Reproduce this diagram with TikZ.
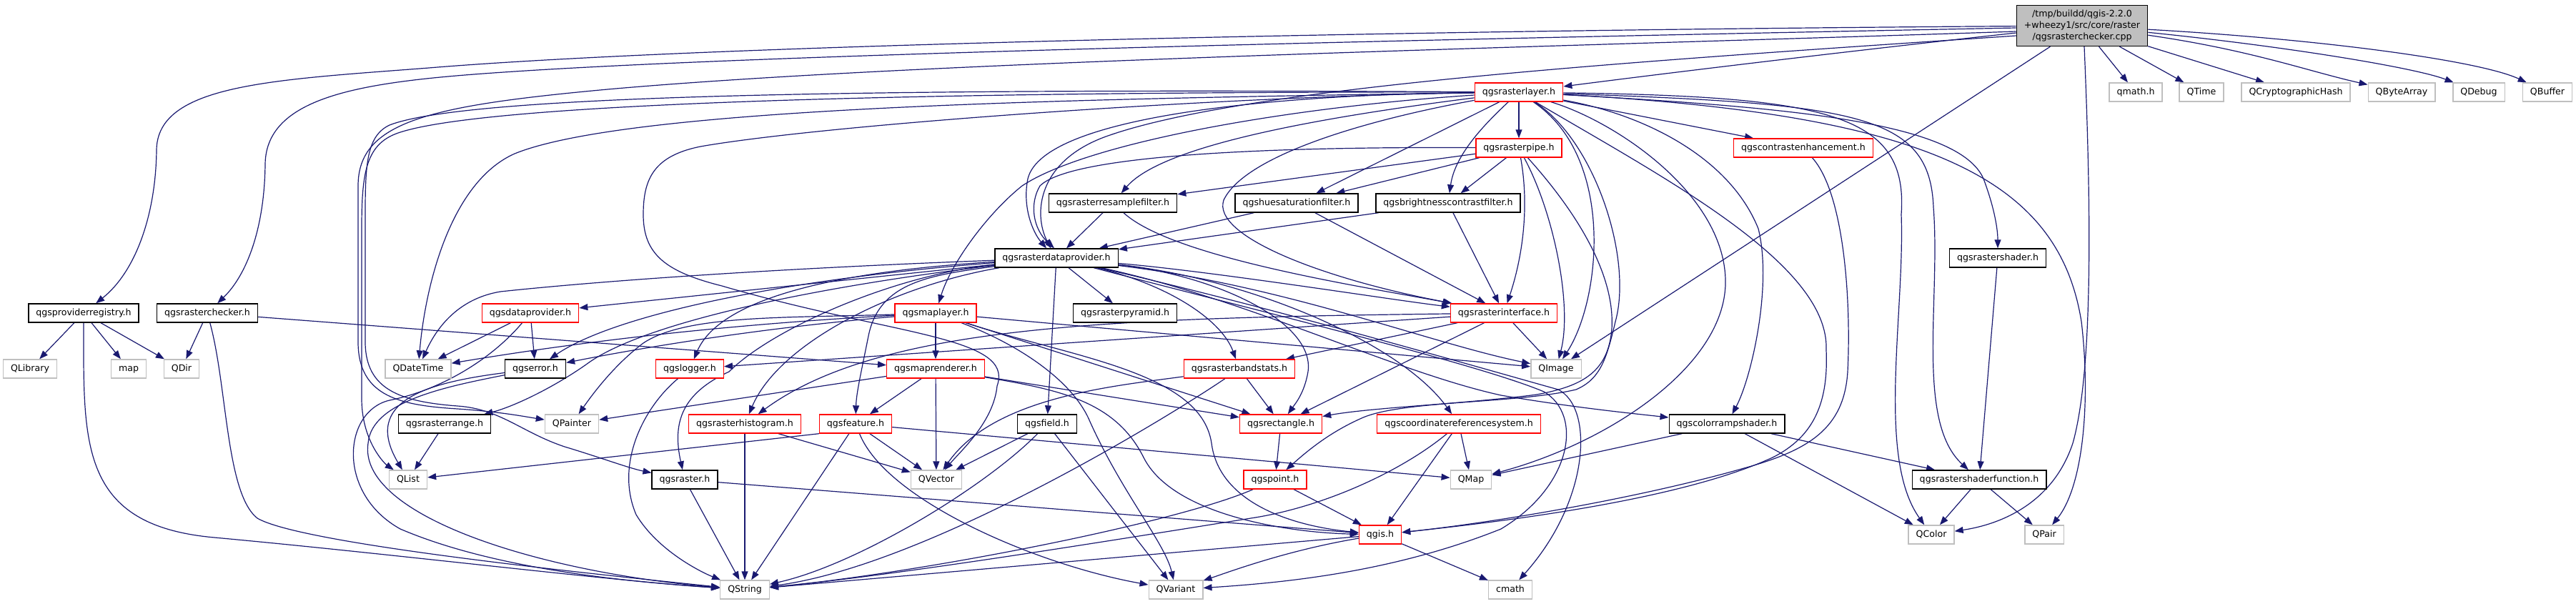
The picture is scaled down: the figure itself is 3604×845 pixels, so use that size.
\documentclass[tikz,border=0pt]{standalone}
\usepackage{fontspec}
\setmainfont{DejaVu Sans}
\usetikzlibrary{arrows.meta}
\definecolor{midnight}{HTML}{191970}
\definecolor{grey75}{HTML}{BFBFBF}
\pgfdeclarelayer{edges}
\pgfsetlayers{edges,main}

\begin{document}
\begin{tikzpicture}[x=1pt,y=-1pt,
  box/.style={draw=black,fill=white,line width=1.4pt,inner xsep=10.5pt,inner ysep=0pt,
    font=\fontsize{12.6}{16.2}\selectfont},
  hdr/.style={box,minimum height=26pt,text height=9.3pt,text depth=3pt},
  trunc/.style={hdr,draw=red},
  sys/.style={hdr,draw=grey75},
  dep/.style={midnight,line width=1.2pt,-{Triangle[length=12pt,width=9pt]}}]
\useasboundingbox (0,0) rectangle (3604,845);

	% Các nút
	\node[box,fill=grey75,align=center,minimum height=57pt] (root) at (2913,36)
		{/tmp/buildd/qgis-2.2.0\\+wheezy1/src/core/raster\\/qgsrasterchecker.cpp};
	\node[trunc] (rlayer) at (2125,129) {qgsrasterlayer.h};
	\node[sys] (qmath) at (2988,129) {qmath.h};
	\node[sys] (qtime) at (3080,129) {QTime};
	\node[sys] (qcrypto) at (3212,129) {QCryptographicHash};
	\node[sys] (qbytearray) at (3360,129) {QByteArray};
	\node[sys] (qdebug) at (3468,129) {QDebug};
	\node[sys] (qbuffer) at (3564,129) {QBuffer};
	\node[trunc] (rpipe) at (2125,207) {qgsrasterpipe.h};
	\node[trunc] (contrast) at (2523,207) {qgscontrastenhancement.h};
	\node[hdr] (resample) at (1557,284) {qgsrasterresamplefilter.h};
	\node[hdr] (huesat) at (1814,284) {qgshuesaturationfilter.h};
	\node[hdr] (brightness) at (2026,284) {qgsbrightnesscontrastfilter.h};
	\node[hdr] (rdp) at (1478,361) {qgsrasterdataprovider.h};
	\node[hdr] (rshader) at (2795,361) {qgsrastershader.h};
	\node[hdr] (provreg) at (117,438) {qgsproviderregistry.h};
	\node[hdr] (rchecker) at (290,438) {qgsrasterchecker.h};
	\node[trunc] (dataprov) at (742,438) {qgsdataprovider.h};
	\node[trunc] (maplayer) at (1309,438) {qgsmaplayer.h};
	\node[hdr] (pyramid) at (1574,438) {qgsrasterpyramid.h};
	\node[trunc] (rinterface) at (2104,438) {qgsrasterinterface.h};
	\node[sys] (qlibrary) at (42,516) {QLibrary};
	\node[sys] (stdmap) at (180,516) {map};
	\node[sys] (qdir) at (254,516) {QDir};
	\node[sys] (qdatetime) at (585,516) {QDateTime};
	\node[hdr] (qgserror) at (749,516) {qgserror.h};
	\node[trunc] (logger) at (965,516) {qgslogger.h};
	\node[trunc] (maprenderer) at (1309,516) {qgsmaprenderer.h};
	\node[trunc] (bandstats) at (1734,516) {qgsrasterbandstats.h};
	\node[sys] (qimage) at (2177,516) {QImage};
	\node[hdr] (rrange) at (622,593) {qgsrasterrange.h};
	\node[sys] (qpainter) at (800,593) {QPainter};
	\node[trunc] (histogram) at (1042,593) {qgsrasterhistogram.h};
	\node[trunc] (feature) at (1197,593) {qgsfeature.h};
	\node[hdr] (field) at (1465,593) {qgsfield.h};
	\node[trunc] (rectangle) at (1792,593) {qgsrectangle.h};
	\node[trunc] (crs) at (2041,593) {qgscoordinatereferencesystem.h};
	\node[hdr] (colorramp) at (2416,593) {qgscolorrampshader.h};
	\node[sys] (qlist) at (571,671) {QList};
	\node[hdr] (qgsraster) at (958,671) {qgsraster.h};
	\node[sys] (qvector) at (1310,671) {QVector};
	\node[trunc] (qgspoint) at (1784,671) {qgspoint.h};
	\node[sys] (qmap) at (2058,671) {QMap};
	\node[hdr] (shaderfn) at (2769,671) {qgsrastershaderfunction.h};
	\node[trunc] (qgis) at (1931,748) {qgis.h};
	\node[sys] (qcolor) at (2702,748) {QColor};
	\node[sys] (qpair) at (2860,748) {QPair};
	\node[sys] (qstring) at (1042,825) {QString};
	\node[sys] (qvariant) at (1645,825) {QVariant};
	\node[sys] (cmath) at (2113,825) {cmath};

\begin{pgfonlayer}{edges}
	% Từ tệp .cpp
	\draw[dep] (root) .. controls (2000,42) and (1000,62) .. (600,95) .. controls (380,112) and (220,118) .. (219,210) .. controls (218,300) and (190,380) .. (provreg);
	\draw[dep] ([yshift=-3pt]root.west) .. controls (2000,55) and (1100,75) .. (720,100) .. controls (520,113) and (372,130) .. (371,230) .. controls (370,320) and (345,385) .. (rchecker);
	\draw[dep] ([yshift=-8pt]root.west) .. controls (2200,65) and (1300,85) .. (850,125) .. controls (600,148) and (501,170) .. (501,260) -- (501,480) .. controls (502,555) and (560,567) .. (640,572) .. controls (700,576) and (735,583) .. (qpainter);
	\draw[dep] ([yshift=-14pt]root.west) .. controls (2300,85) and (1750,120) .. (1550,190) .. controls (1450,225) and (1446,300) .. ([xshift=-8pt]rdp.north);
	\draw[dep] (root) .. controls (2600,70) and (2350,100) .. (rlayer);
	\draw[dep] (root) -- (qmath);
	\draw[dep] (root) -- (qtime);
	\draw[dep] (root) -- (qcrypto);
	\draw[dep] (root) .. controls (3150,70) and (3230,100) .. (qbytearray);
	\draw[dep] (root) .. controls (3200,65) and (3380,95) .. (qdebug);
	\draw[dep] (root) .. controls (3250,55) and (3470,85) .. (qbuffer);
	\draw[dep] (root) -- (qimage);
	\draw[dep] ([xshift=3pt]root.south) .. controls (2926,300) and (2928,520) .. (2900,620) .. controls (2870,710) and (2790,735) .. (qcolor);
	\draw[dep] (provreg) -- (qlibrary);
	\draw[dep] (provreg) -- (stdmap);
	\draw[dep] (provreg) -- (qdir);
	\draw[dep] (provreg) .. controls (117,620) and (110,735) .. (300,752) .. controls (550,775) and (850,812) .. (qstring);
	\draw[dep] (rchecker) -- (qdir);
	\draw[dep] (rchecker) -- (maprenderer);
	\draw[dep] (rchecker) .. controls (318,540) and (316,690) .. (360,725) .. controls (420,760) and (800,800) .. (qstring);
	% qgsrasterlayer.h
	\draw[dep] (rlayer) -- (rpipe);
	\draw[dep] (rlayer) -- (contrast);
	\draw[dep] (rlayer) -- (huesat);
	\draw[dep] (rlayer) .. controls (2070,180) and (2035,220) .. (brightness);
	\draw[dep] (rlayer) .. controls (1800,170) and (1620,210) .. (resample);
	\draw[dep] (rlayer) .. controls (1800,132) and (1460,160) .. (1438,250) .. controls (1430,290) and (1445,325) .. ([xshift=-14pt]rdp.north);
	\draw[dep] (rlayer) .. controls (1900,170) and (1740,220) .. (1712,280) .. controls (1695,330) and (1850,390) .. (rinterface);
	\draw[dep] (rlayer) .. controls (1800,150) and (1520,200) .. (1430,260) .. controls (1380,300) and (1330,370) .. (maplayer);
	\draw[dep] (rlayer) .. controls (2500,150) and (2740,170) .. (2775,250) .. controls (2790,290) and (2795,320) .. (rshader);
	\draw[dep] (rlayer) .. controls (2300,160) and (2420,220) .. (2460,320) .. controls (2480,400) and (2450,530) .. (colorramp);
	\draw[dep] (rlayer) .. controls (2600,145) and (2700,160) .. (2705,290) .. controls (2715,420) and (2680,590) .. (shaderfn);
	\draw[dep] (rlayer) .. controls (2560,135) and (2670,160) .. (2660,300) .. controls (2665,440) and (2625,640) .. (qcolor);
	\draw[dep] (rlayer) .. controls (2700,160) and (2880,250) .. (2912,450) .. controls (2925,560) and (2915,680) .. (qpair);
	\draw[dep] (rlayer) .. controls (2260,170) and (2410,270) .. (2414,390) .. controls (2418,510) and (2250,620) .. (qmap);
	\draw[dep] (rlayer) .. controls (2260,220) and (2240,420) .. (qimage);
	\draw[dep] (rlayer) .. controls (1500,138) and (880,150) .. (720,215) .. controls (630,255) and (595,400) .. (qdatetime);
	\draw[dep] (rlayer) .. controls (1400,128) and (700,140) .. (560,185) .. controls (512,200) and (506,240) .. (506,320) -- (506,560) .. controls (507,620) and (540,650) .. (qlist);
	\draw[dep] (rlayer) .. controls (1300,124) and (660,130) .. (545,175) .. controls (513,190) and (511,230) .. (511,300) -- (511,480) .. controls (512,545) and (560,562) .. (640,568) .. controls (700,572) and (730,605) .. (790,625) .. controls (840,640) and (880,655) .. (qgsraster);
	\draw[dep] (rlayer) .. controls (1700,135) and (1150,175) .. (980,205) .. controls (915,218) and (900,250) .. (900,300) .. controls (900,355) and (930,380) .. (1010,400) .. controls (1250,470) and (1420,470) .. (1395,540) .. controls (1390,590) and (1345,630) .. (qvector);
	\draw[dep] (rlayer) .. controls (2330,250) and (2560,370) .. (2555,490) .. controls (2558,560) and (2540,610) .. (2480,640) .. controls (2350,700) and (2100,730) .. (qgis);
	\draw[dep] (rlayer) .. controls (2230,195) and (2285,360) .. (2260,450) .. controls (2248,500) and (2240,530) .. (2205,545) .. controls (2120,565) and (1960,560) .. (1905,585) .. controls (1860,605) and (1830,630) .. (qgspoint);
	% qgsrasterpipe.h và các bộ lọc
	\draw[dep] (rpipe) -- (resample);
	\draw[dep] (rpipe) -- (huesat);
	\draw[dep] (rpipe) -- (brightness);
	\draw[dep] (rpipe) .. controls (2140,290) and (2130,360) .. (rinterface);
	\draw[dep] (rpipe) .. controls (2175,300) and (2200,430) .. (qimage);
	\draw[dep] (rpipe) .. controls (1800,205) and (1500,215) .. (1455,260) .. controls (1440,285) and (1445,320) .. ([xshift=-3pt]rdp.north);
	\draw[dep] (rpipe) .. controls (2200,290) and (2260,380) .. (2255,460) .. controls (2250,520) and (2215,540) .. (2150,552) .. controls (2050,565) and (1920,570) .. (rectangle);
	\draw[dep] (contrast) .. controls (2580,270) and (2590,420) .. (2585,520) .. controls (2580,600) and (2530,630) .. (2440,655) .. controls (2300,695) and (2100,730) .. (qgis);
	\draw[dep] (resample) -- (rdp);
	\draw[dep] (resample) .. controls (1640,360) and (1900,400) .. (rinterface);
	\draw[dep] (huesat) -- (rdp);
	\draw[dep] (huesat) -- (rinterface);
	\draw[dep] (brightness) -- (rdp);
	\draw[dep] (brightness) -- (rinterface);
	% qgsrasterdataprovider.h
	\draw[dep] (rdp) -- (dataprov);
	\draw[dep] (rdp) .. controls (1100,375) and (850,392) .. (700,408) .. controls (640,418) and (610,460) .. (qdatetime);
	\draw[dep] (rdp) .. controls (1100,390) and (860,440) .. (qgserror);
	\draw[dep] (rdp) .. controls (1150,400) and (900,450) .. (820,510) .. controls (770,545) and (715,570) .. (rrange);
	\draw[dep] (rdp) .. controls (1200,378) and (1010,410) .. (logger);
	\draw[dep] (rdp) .. controls (1250,385) and (1080,460) .. (1020,520) .. controls (955,550) and (940,590) .. (qgsraster);
	\draw[dep] (rdp) .. controls (1250,400) and (1090,480) .. (histogram);
	\draw[dep] (rdp) .. controls (1300,385) and (1230,395) .. (1215,470) .. controls (1205,520) and (1198,550) .. (feature);
	\draw[dep] (rdp) -- (field);
	\draw[dep] (rdp) -- (pyramid);
	\draw[dep] (rdp) .. controls (1700,380) and (1950,420) .. (rinterface);
	\draw[dep] (rdp) .. controls (1640,400) and (1710,450) .. (bandstats);
	\draw[dep] (rdp) .. controls (1700,385) and (1840,450) .. (1830,520) .. controls (1825,550) and (1812,565) .. (rectangle);
	\draw[dep] (rdp) .. controls (1750,390) and (1960,480) .. (crs);
	\draw[dep] (rdp) .. controls (1800,400) and (2000,480) .. (qimage);
	\draw[dep] (rdp) .. controls (1750,420) and (1950,520) .. (2100,553) .. controls (2200,570) and (2280,578) .. (colorramp);
	\draw[dep] (rdp) .. controls (1780,430) and (2090,520) .. (2180,545) .. controls (2230,570) and (2225,700) .. (cmath);
	\draw[dep] (rdp) .. controls (1780,440) and (2070,510) .. (2160,548) .. controls (2215,580) and (2200,680) .. (2100,740) .. controls (1950,800) and (1800,815) .. (qvariant);
	% các tệp còn lại
	\draw[dep] (dataprov) -- (qdatetime);
	\draw[dep] (dataprov) -- (qgserror);
	\draw[dep] (dataprov) .. controls (690,500) and (620,545) .. (545,560) .. controls (480,575) and (470,690) .. (560,740) .. controls (700,800) and (900,815) .. (qstring);
	\draw[dep] (qgserror) .. controls (600,535) and (505,560) .. (qlist);
	\draw[dep] (qgserror) .. controls (630,540) and (520,560) .. (515,620) .. controls (500,720) and (750,800) .. (qstring);
	\draw[dep] (rrange) -- (qlist);
	\draw[dep] (logger) .. controls (900,570) and (860,650) .. (890,720) .. controls (920,770) and (980,800) .. (qstring);
	\draw[dep] (maplayer) -- (maprenderer);
	\draw[dep] (maplayer) .. controls (1000,455) and (800,480) .. (qdatetime);
	\draw[dep] (maplayer) .. controls (1050,460) and (880,490) .. (qgserror);
	\draw[dep] (maplayer) .. controls (1100,445) and (960,440) .. (900,480) .. controls (860,510) and (830,550) .. (qpainter);
	\draw[dep] (maplayer) -- (qimage);
	\draw[dep] (maplayer) -- (rectangle);
	\draw[dep] (maplayer) .. controls (1420,480) and (1500,530) .. (1525,590) .. controls (1570,690) and (1630,760) .. (qvariant);
	\draw[dep] (maplayer) .. controls (1500,500) and (1680,520) .. (1695,620) .. controls (1705,700) and (1800,735) .. (qgis);
	\draw[dep] (maprenderer) -- (feature);
	\draw[dep] (maprenderer) -- (qvector);
	\draw[dep] (maprenderer) -- (qpainter);
	\draw[dep] (maprenderer) -- (rectangle);
	\draw[dep] (maprenderer) .. controls (1480,545) and (1560,560) .. (1600,640) .. controls (1640,720) and (1800,745) .. (qgis);
	\draw[dep] (bandstats) -- (rectangle);
	\draw[dep] (bandstats) .. controls (1560,540) and (1390,555) .. (qvector);
	\draw[dep] (bandstats) .. controls (1640,580) and (1300,790) .. (qstring);
	\draw[dep] (rinterface) -- (bandstats);
	\draw[dep] (rinterface) -- (rectangle);
	\draw[dep] (rinterface) -- (qimage);
	\draw[dep] (rinterface) -- (logger);
	\draw[dep] (rinterface) .. controls (1550,445) and (1230,455) .. (histogram);
	\draw[dep] (histogram) -- (qvector);
	\draw[dep] (histogram) -- (qstring);
	\draw[dep] (feature.south west) -- (qlist);
	\draw[dep] (feature) -- (qvector);
	\draw[dep] (feature) -- (qstring);
	\draw[dep] (feature) .. controls (1240,700) and (1450,790) .. (qvariant);
	\draw[dep] (feature) -- (qmap);
	\draw[dep] (field) -- (qvector);
	\draw[dep] (field) .. controls (1380,680) and (1200,790) .. (qstring);
	\draw[dep] (field) -- (qvariant);
	\draw[dep] (rectangle) -- (qgspoint);
	\draw[dep] (crs) -- (qmap);
	\draw[dep] (crs) -- (qgis);
	\draw[dep] (crs) .. controls (1960,660) and (1850,710) .. (1750,725) .. controls (1500,765) and (1250,805) .. (qstring);
	\draw[dep] (colorramp) -- (qmap);
	\draw[dep] (colorramp) -- (qcolor);
	\draw[dep] (colorramp) -- (shaderfn);
	\draw[dep] (qgsraster) -- (qstring);
	\draw[dep] (qgsraster) -- (qgis);
	\draw[dep] (qgspoint) -- (qgis);
	\draw[dep] (qgspoint) .. controls (1650,730) and (1300,800) .. (qstring);
	\draw[dep] (qgis) -- (qstring);
	\draw[dep] (qgis) .. controls (1800,770) and (1720,800) .. (qvariant);
	\draw[dep] (qgis) -- (cmath);
	\draw[dep] (rshader) -- (shaderfn);
	\draw[dep] (shaderfn) -- (qcolor);
	\draw[dep] (shaderfn) -- (qpair);
\end{pgfonlayer}
\end{tikzpicture}
\end{document}
